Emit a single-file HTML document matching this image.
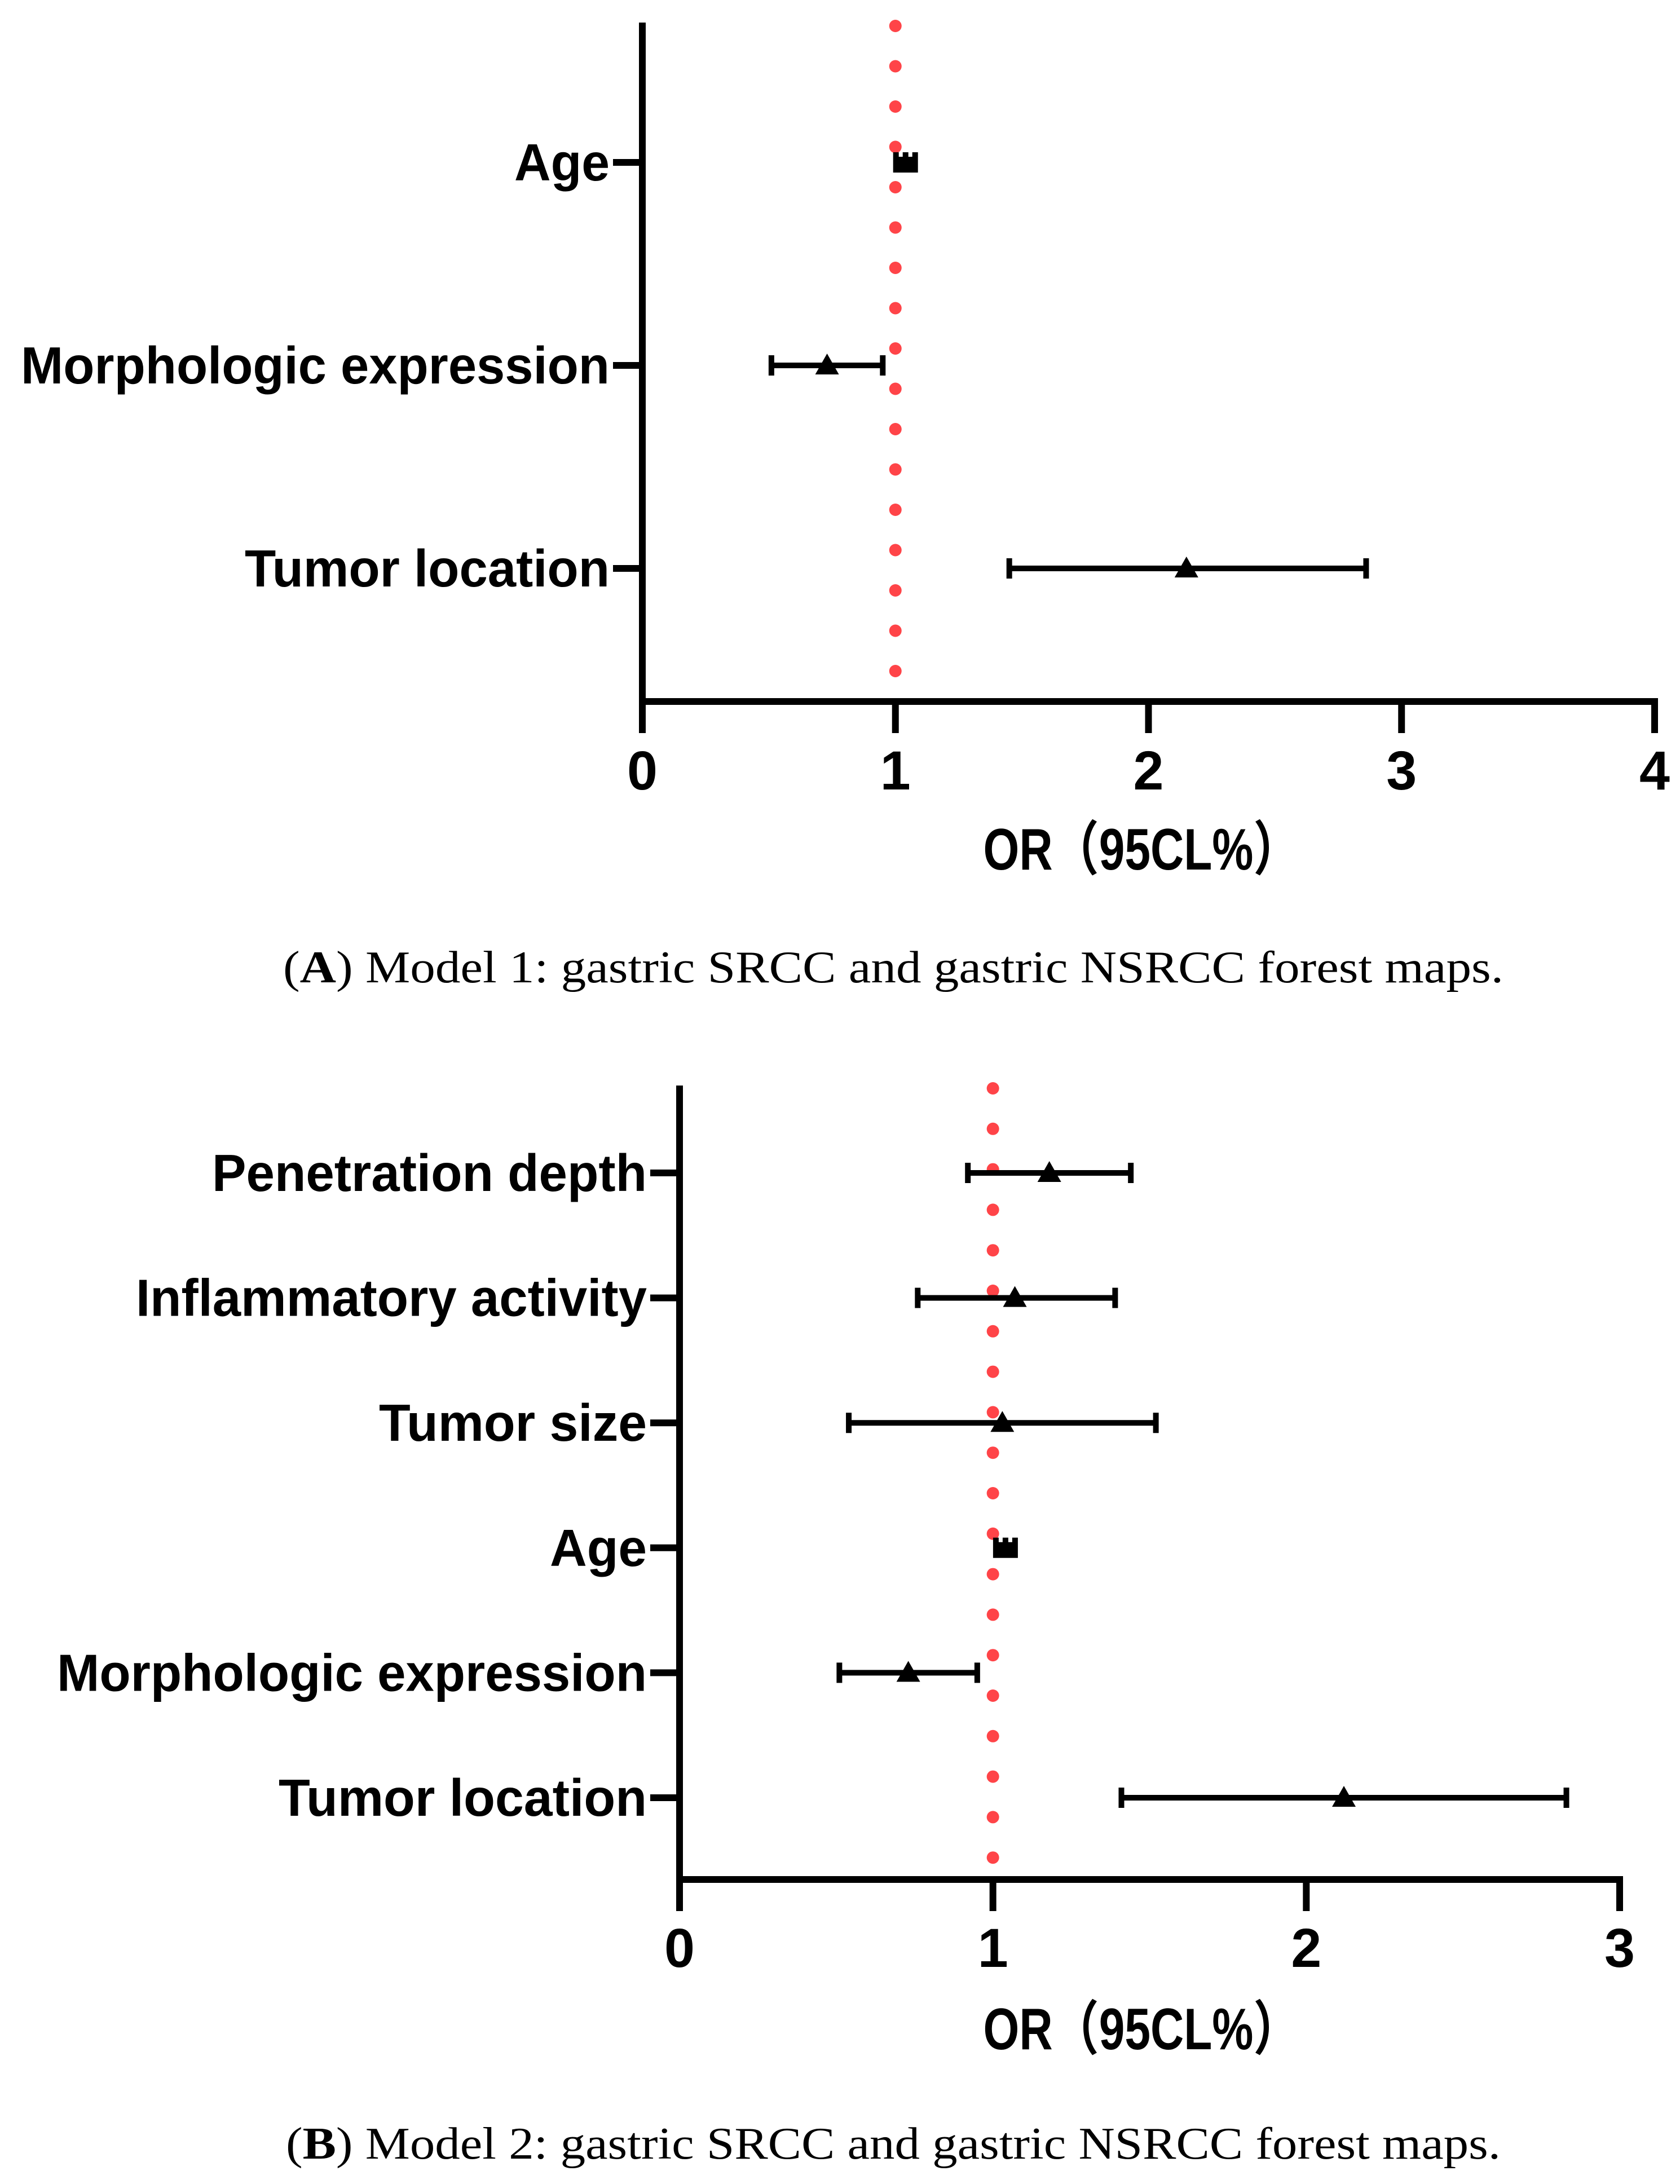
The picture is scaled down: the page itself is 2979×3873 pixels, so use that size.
<!DOCTYPE html>
<html><head><meta charset="utf-8"><style>
html,body{margin:0;padding:0;background:#fff}
svg{display:block}
</style></head><body>
<svg id="fig" width="2979" height="3873" viewBox="0 0 2979 3873" xmlns="http://www.w3.org/2000/svg">
<rect width="2979" height="3873" fill="#fff"/>
</svg>
<script>
// Panel A data
const catsA = ["Age","Morphologic expression","Tumor location"];
const orA = [1.04, 0.73, 2.15];
const loA = [1.02, 0.51, 1.45];
const hiA = [1.06, 0.95, 2.86];
const ticksA = [0,1,2,3,4];
const labelWA = [169, 1044, 647];
// Panel B data
const catsB = ["Penetration depth","Inflammatory activity","Tumor size","Age","Morphologic expression","Tumor location"];
const orB = [1.18, 1.07, 1.03, 1.04, 0.73, 2.12];
const loB = [0.92, 0.76, 0.54, 1.02, 0.51, 1.41];
const hiB = [1.44, 1.39, 1.52, 1.06, 0.95, 2.83];
const ticksB = [0,1,2,3];
const labelWB = [771, 906, 475, 172, 1046, 653];
const refLine = 1;

const NS = "http://www.w3.org/2000/svg";
const svg = document.getElementById('fig');
function mk(tag, attrs, parent){
  const e = document.createElementNS(NS, tag);
  for (const k in attrs) e.setAttribute(k, attrs[k]);
  (parent||svg).appendChild(e);
  return e;
}
const SANS = '"Liberation Sans", Arial, sans-serif';

function panel(cfg){
  const g = mk('g', {});
  
  
  const xmax = cfg.ticks[cfg.ticks.length-1];
  const xs = v => cfg.x0 + (v/xmax)*(cfg.x1-cfg.x0);
  const ys = i => cfg.rowTop + i*cfg.rowStep;
  const rg = mk('g', {}, g);
  
  
  for (let k=0;k<cfg.dotN;k++){
    const d = mk('circle', {cx: xs(refLine), cy: cfg.dotTop + k*cfg.dotStep, r: 11, fill: '#ff4448'}, rg);
    
    
  }
  const ya = mk('line', {x1: cfg.x0, y1: cfg.yTop, x2: cfg.x0, y2: cfg.yAxis+6, stroke:'#000','stroke-width':12}, g);
  
  
  const xa = mk('line', {x1: cfg.x0-6, y1: cfg.yAxis, x2: cfg.x1+6, y2: cfg.yAxis, stroke:'#000','stroke-width':12}, g);
  
  
  cfg.ticks.forEach(t => {
    const tk = mk('line', {x1: xs(t), y1: cfg.yAxis, x2: xs(t), y2: cfg.yAxis+56, stroke:'#000','stroke-width':12}, g);
    
    
    const tl = mk('text', {x: xs(t), y: cfg.tickLabelY, 'text-anchor':'middle','font-family':SANS,'font-weight':'bold','font-size':97}, g);
    tl.textContent = String(t);
    
    
  });
  cfg.cats.forEach((c,i) => {
    const y = ys(i);
    const tk = mk('line', {x1: cfg.x0-52, y1: y, x2: cfg.x0, y2: y, stroke:'#000','stroke-width':12}, g);
    
    
    const lb = mk('text', {x: cfg.x0-58, y: y+32, 'text-anchor':'end','font-family':SANS,'font-weight':'bold','font-size':93, textLength: cfg.labelW[i], lengthAdjust:'spacingAndGlyphs'}, g);
    lb.textContent = c;
    
    
    const xl = xs(cfg.lo[i]), xh = xs(cfg.hi[i]), xp = xs(cfg.or[i]);
    if (c === 'Age'){
      const m = mk('path', {d: `M${xp-22},${y-18} h10 v8 h7 v-8 h10 v8 h7 v-8 h10 v36 h-44 z`, fill:'#000'}, g);
      
      
    } else {
      const eb = mk('path', {d: `M${xl},${y} H${xh} M${xl},${y-18} V${y+18} M${xh},${y-18} V${y+18}`, stroke:'#000','stroke-width':10,fill:'none'}, g);
      
      
      const tr = mk('path', {d: `M${xp},${y-21} L${xp+21},${y+16} L${xp-21},${y+16} Z`, fill:'#000'}, g);
      
      
    }
  });
  const tt = mk('text', {x: 2024, y: cfg.titleY, 'text-anchor':'middle','font-family':'"Liberation Sans", "Noto Sans CJK SC", sans-serif','font-weight':'bold','font-size':104, textLength:561, lengthAdjust:'spacingAndGlyphs'}, g);
  tt.textContent = 'OR（95CL%）';
  
  
  const cap = mk('text', {x: cfg.capX, y: cfg.capY, 'text-anchor':'middle','font-family':'"Liberation Serif", serif','font-size':80, textLength: cfg.capW, lengthAdjust:'spacingAndGlyphs'}, g);
  
  
  const t1 = mk('tspan', {}, cap); t1.textContent = '(';
  const t2 = mk('tspan', {'font-weight':'bold'}, cap); t2.textContent = cfg.letter;
  const t3 = mk('tspan', {}, cap); t3.textContent = cfg.capText;
}

panel({name:'panel-a-forest-plot', cats:catsA, or:orA, lo:loA, hi:hiA, ticks:ticksA, labelW:labelWA,
  x0:1139, x1:2934, yTop:40, yAxis:1244, rowTop:288, rowStep:360,
  dotTop:46, dotStep:71.5, dotN:17, tickLabelY:1400, titleY:1542,
  capX:1584, capY:1742, capW:2164, letter:'A', capText:') Model 1: gastric SRCC and gastric NSRCC forest maps.'});
panel({name:'panel-b-forest-plot', cats:catsB, or:orB, lo:loB, hi:hiB, ticks:ticksB, labelW:labelWB,
  x0:1205, x1:2872, yTop:1925, yAxis:3333, rowTop:2080, rowStep:221.6,
  dotTop:1930, dotStep:71.8, dotN:20, tickLabelY:3488, titleY:3634,
  capX:1584, capY:3828, capW:2154, letter:'B', capText:') Model 2: gastric SRCC and gastric NSRCC forest maps.'});
</script>
</body></html>
